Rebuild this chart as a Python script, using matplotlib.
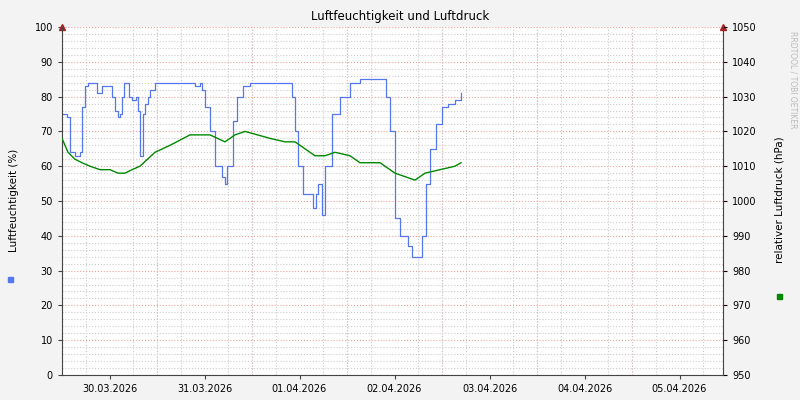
import matplotlib
matplotlib.use("Agg")
import matplotlib.pyplot as plt
from matplotlib.ticker import MultipleLocator

# x in pixel-derived day units: day = (px-62)/95, 0 = 30.03.2026 00:00
hum_px = [62,67,70,75,80,82,85,88,95,97,100,102,110,112,115,118,120,122,124,127,129,132,136,138,140,143,145,148,150,155,192,195,200,202,205,210,215,222,225,227,233,237,243,250,290,292,295,298,303,313,316,318,322,325,332,340,350,360,382,386,390,395,400,408,412,418,422,426,430,436,442,448,455,461]
hum_val = [75,74,64,63,64,77,83,84,84,81,81,83,83,80,76,74,75,80,84,84,80,79,80,76,63,75,78,80,82,84,84,83,84,82,77,70,60,57,55,60,73,80,83,84,84,80,70,60,52,48,52,55,46,60,75,80,84,85,85,80,70,45,40,37,34,34,40,55,65,72,77,78,79,81]
pr_px = [62,68,75,82,90,100,110,118,125,132,140,155,170,190,210,225,235,245,270,285,295,305,315,325,335,350,360,380,395,405,415,425,440,455,461]
pr_val = [1018,1014,1012,1011,1010,1009,1009,1008,1008,1009,1010,1014,1016,1019,1019,1017,1019,1020,1018,1017,1017,1015,1013,1013,1014,1013,1011,1011,1008,1007,1006,1008,1009,1010,1011]
tick_labels = ["30.03.2026","31.03.2026","01.04.2026","02.04.2026","03.04.2026","04.04.2026","05.04.2026"]

hx = [(p-62)/95 for p in hum_px]
px_ = [(p-62)/95 for p in pr_px]

plt.rcParams['font.family'] = 'DejaVu Sans'
fig = plt.figure(figsize=(8,4), dpi=100, facecolor='#f3f3f3')
ax = fig.add_axes([62/800, 25/400, 661/800, 348/400])
ax.set_facecolor('white')
ax.set_xlim(0, 661/95)
ax.set_ylim(0, 100)
ax.yaxis.set_major_locator(MultipleLocator(10))
ax.yaxis.set_minor_locator(MultipleLocator(2))
ax.set_xticks([i+0.5 for i in range(7)])
ax.set_xticklabels(tick_labels, fontsize=7)
ax.xaxis.set_minor_locator(MultipleLocator(0.25))
ax.grid(which='minor', color='#cccccc', linestyle=':', linewidth=0.8)
ax.yaxis.grid(True, which='major', color='#e8a0a0', linestyle=':', linewidth=0.8)
for d in range(1,7):
    ax.axvline(d, color='#e8a0a0', linestyle=':', linewidth=0.8, zorder=0.5)
ax.tick_params(axis='both', labelsize=7, length=3, color='#444444')
ax.tick_params(which='minor', length=0)
for s in ['top','right']:
    ax.spines[s].set_visible(False)
ax.spines['left'].set_color('#444444'); ax.spines['bottom'].set_color('#444444')

ax.step(hx, hum_val, where='post', color='#5577ee', linewidth=0.9)
ax2 = ax.twinx()
ax2.set_ylim(950, 1050)
ax2.yaxis.set_major_locator(MultipleLocator(10))
ax2.plot(px_, pr_val, color='#008800', linewidth=1.0)
ax2.tick_params(labelsize=7, length=3)
for s in ['top','left','bottom']:
    ax2.spines[s].set_visible(False)
ax2.spines['right'].set_color('#444444')

fig.text(14/800, 0.5, "Luftfeuchtigkeit (%)", rotation=90, fontsize=7.5, ha='center', va='center')
fig.text(779/800, 0.5, "relativer Luftdruck (hPa)", rotation=90, fontsize=7.5, ha='center', va='center')
fig.text(0.5, 0.95, "Luftfeuchtigkeit und Luftdruck", ha='center', fontsize=8.5)
fig.text(0.991, 0.8, "RRDTOOL / TOBI OETIKER", rotation=270, color='#bbbbbb', fontsize=5.5, ha='center', va='center')
fig.patches.append(plt.Rectangle((8/800, 1-282/400), 5/800, 5/400, transform=fig.transFigure, color='#5577ee'))
fig.patches.append(plt.Rectangle((777/800, 1-299/400), 5/800, 5/400, transform=fig.transFigure, color='#008800'))
ax.plot([0],[100], marker='^', color='#aa2222', markersize=4, clip_on=False)
ax.plot([661/95],[100], marker='^', color='#aa2222', markersize=4, clip_on=False)
fig.savefig("out.png", dpi=100, facecolor=fig.get_facecolor())
